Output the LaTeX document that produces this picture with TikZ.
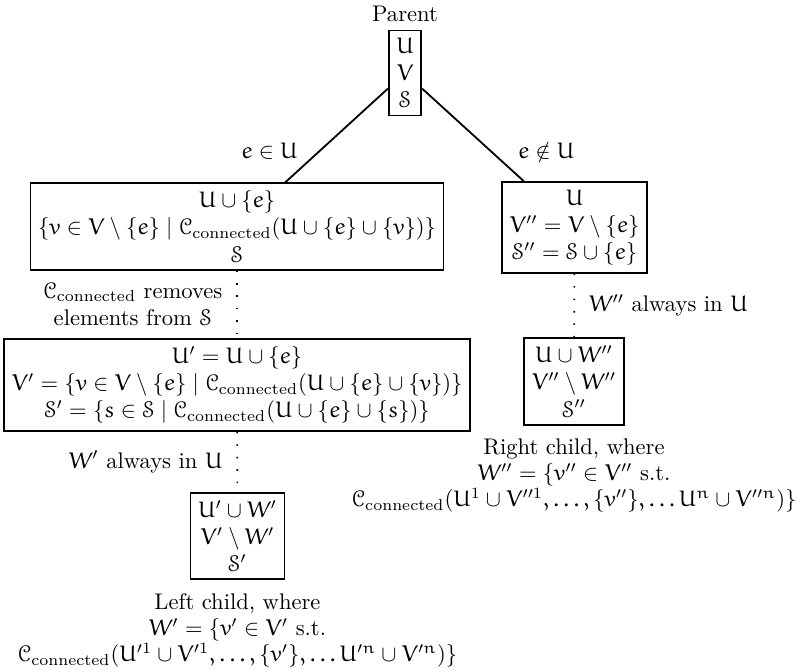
\documentclass[tikz,border=0pt]{standalone}
\usepackage{amsmath}
\usepackage{amssymb}
\usetikzlibrary{positioning}

% Euler letters and script for math, when the fonts are there
\IfFileExists{ueur.fd}{%
  \DeclareSymbolFont{letters}{U}{eur}{m}{n}%
  \SetSymbolFont{letters}{bold}{U}{eur}{b}{n}%
}{}
\IfFileExists{ueus.fd}{%
  \DeclareMathAlphabet{\mathcal}{U}{eus}{m}{n}%
}{}

\newcommand{\Cconn}{\mathcal{C}_{\text{connected}}}

\begin{document}
\begin{tikzpicture}[
    setbox/.style={draw, thick, align=center},
    branch/.style={thick},
    chain/.style={line width=0.7pt, dash pattern=on 0.7pt off 4.8pt},
    childnote/.style={align=center, font=\fontsize{10}{11.5}\selectfont}
]
    \useasboundingbox (-6.298,1.135) rectangle (6.282,-9.314);

    \node[setbox] (parent) at (0,0) {$U$\\$V$\\$\mathcal{S}$};
    \node[above=0pt of parent] (parenttitle) {Parent};

    % e taken
    \node[setbox] (inbranch) at (-2.612,-2.387)
        {$U \cup \{e\}$\\
         $\{v \in V \setminus \{e\} \mid \Cconn(U \cup \{e\} \cup \{v\})\}$\\
         $\mathcal{S}$};
    \node[setbox] (inrefine) at (-2.612,-4.852)
        {$U' = U \cup \{e\}$\\
         $V' = \{v \in V \setminus \{e\} \mid \Cconn(U \cup \{e\} \cup \{v\})\}$\\
         $\mathcal{S}' = \{s \in \mathcal{S} \mid \Cconn(U \cup \{e\} \cup \{s\})\}$};
    \node[setbox] (inchild) at (-2.605,-7.200)
        {$U' \cup W'$\\$V' \setminus W'$\\$\mathcal{S}'$};
    \node[childnote, below=2.5pt of inchild] (innote)
        {Left child, where\\
         $W' = \{v' \in V'$ s.t.\\
         $\Cconn(U'^1 \cup V'^1, \ldots, \{v'\}, \ldots U'^n \cup V'^n)\}$};

    % e skipped
    \node[setbox] (outbranch) at (2.636,-2.402)
        {$U$\\$V'' = V \setminus \{e\}$\\$\mathcal{S}'' = \mathcal{S} \cup \{e\}$};
    \node[setbox] (outchild) at (2.628,-4.797)
        {$U \cup W''$\\$V'' \setminus W''$\\$\mathcal{S}''$};
    \node[childnote, below=2.5pt of outchild] (outnote)
        {Right child, where\\
         $W'' = \{v'' \in V''$ s.t.\\
         $\Cconn(U^1 \cup V''^1, \ldots, \{v''\}, \ldots U^n \cup V''^n)\}$};

    \draw[branch] (parent) -- (inbranch) node[pos=0.67, left=2mm] {$e \in U$};
    \draw[branch] (parent) -- (outbranch) node[pos=0.67, right=3mm] {$e \notin U$};

    \draw[chain] (inbranch) -- (inrefine)
        node[midway, left=1mm, align=center] {$\Cconn$ removes\\elements from $\mathcal{S}$};
    \draw[chain] (inrefine) -- (inchild)
        node[midway, left=1mm] {$W'$ always in $U$};
    \draw[chain] (outbranch) -- (outchild)
        node[midway, right=1mm] {$W''$ always in $U$};
\end{tikzpicture}
\end{document}
